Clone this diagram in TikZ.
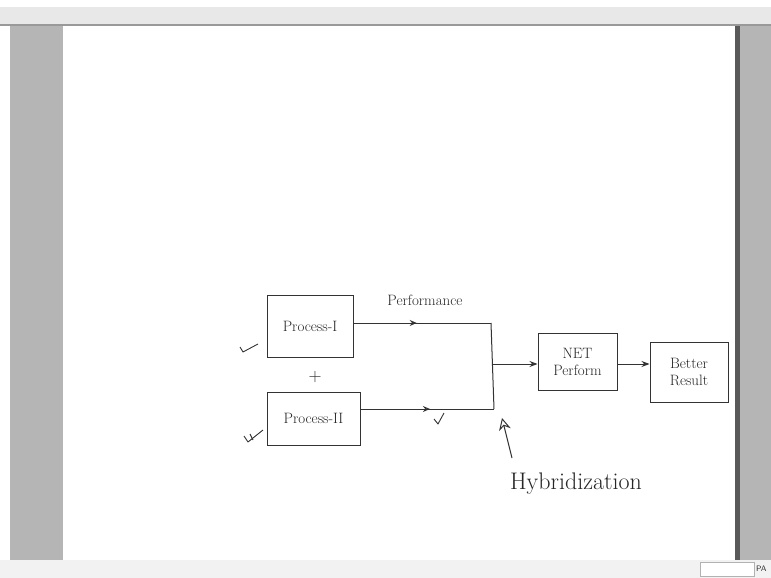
\documentclass[tikz,border=0pt]{standalone}
\usetikzlibrary{arrows.meta,decorations.markings}
\begin{document}
\begin{tikzpicture}[x=1pt,y=-1pt,
  ink/.style={draw=black!80, line width=1pt},
  box/.style={ink, rectangle, inner sep=0pt, align=center},
  txt/.style={font=\fontsize{15}{17}\selectfont, text=black!85},
  midarrow/.style={postaction={decorate}, decoration={markings, mark=at position #1 with {\arrow{Stealth[length=7pt,width=6pt,open]}}}},
  tick/.style={draw=black!80, line width=0.9pt, line join=round}]
\useasboundingbox (0,0) rectangle (771,578);
% window chrome
\fill[white] (0,0) rectangle (771,578);
\fill[black!9] (0,7) rectangle (771,24);
\fill[black!40] (0,24) rectangle (771,26);
\fill[black!29] (10,26) rectangle (63,560);
\fill[black!29] (740,26) rectangle (771,560);
\fill[black!65] (735,26) rectangle (740,560);
\fill[black!5] (0,560) rectangle (771,578);
\draw[black!30, fill=white] (700,562) rectangle (754,576);
\node[font=\fontsize{8}{9}\selectfont\sffamily, text=black!80, anchor=west, inner sep=0pt] (pa) at (756,569) {PA};
% diagram
\node[box, txt, minimum width=86pt, minimum height=62pt] (p1) at (310,326) {Process-I};
\node[box, txt, minimum width=93pt, minimum height=53pt] (p2) at (313.5,418.5) {Process-II};
\node[txt, font=\fontsize{18}{20}\selectfont] (plus) at (315,377) {+};
\node[txt] (perf) at (425,300) {Performance};
\node[box, txt, minimum width=79pt, minimum height=57pt] (net) at (577.5,361.5) {NET\\Perform};
\node[box, txt, minimum width=78pt, minimum height=60pt] (better) at (689,372) {Better\\Result};
\node[txt, font=\fontsize{24}{26}\selectfont] (hyb) at (576,484) {Hybridization};
\coordinate (j1) at (491,323);
\coordinate (j2) at (494,409);
\coordinate (jm) at (493,364);
\coordinate (ht) at (512,458);
\coordinate (htip) at (502,418);
\draw[ink, midarrow=0.46] (p1.east |- j1) -- (j1);
\draw[ink, midarrow=0.52] (p2.east |- j2) -- (j2);
\draw[ink] (j1) -- (j2);
\draw[ink, -{Stealth[length=8pt,width=6pt]}] (jm) -- (net.west |- jm);
\draw[ink, -{Stealth[length=8pt,width=6pt]}] (net.east |- jm) -- (better.west |- jm);
\draw[ink, -{Stealth[length=12pt,width=12pt,open]}] (ht) -- (htip);
% handwritten tick marks
\draw[tick] (240,347) -- (243,352) -- (258,344);
\draw[tick] (244,436) -- (248,442) -- (263,430);
\draw[tick] (250,434) -- (253,440);
\draw[tick] (434,419) -- (438,424) -- (444,413);
\end{tikzpicture}
\end{document}
